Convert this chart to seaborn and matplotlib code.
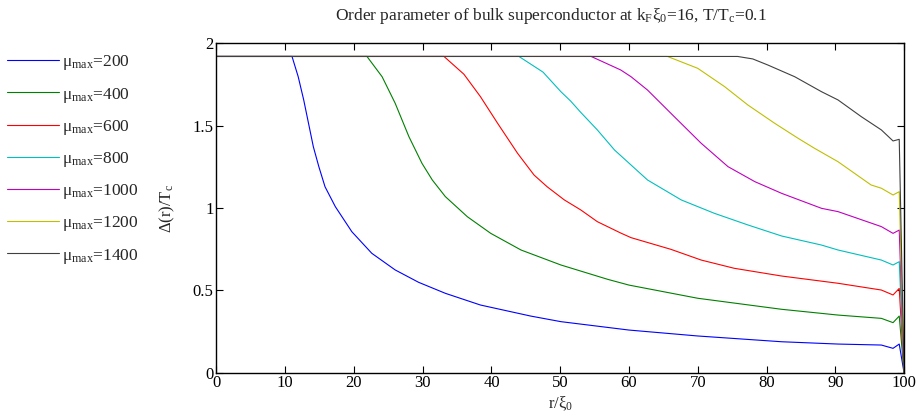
import numpy as np
import pandas as pd
import matplotlib
matplotlib.use("Agg")
import matplotlib.pyplot as plt
import seaborn as sns

# ---- data ----
mu_max = [200, 400, 600, 800, 1000, 1200, 1400]

x_200 = [0, 11.0, 11.9, 12.7, 13.4, 14.1, 14.9, 15.8, 17.3, 19.7, 22.6, 26.0, 29.4, 33.3, 38.4, 45.7, 50.1, 60.0, 70.0, 82.2, 90.4, 96.7, 98.4, 99.3, 100]
y_200 = [1.92, 1.92, 1.797, 1.656, 1.514, 1.372, 1.251, 1.129, 1.008, 0.856, 0.725, 0.624, 0.549, 0.482, 0.411, 0.344, 0.31, 0.259, 0.223, 0.188, 0.174, 0.168, 0.148, 0.174, 0.0]

x_400 = [0, 21.9, 24.1, 26.0, 28.0, 29.9, 31.4, 33.3, 36.5, 39.9, 44.3, 50.1, 56.9, 60.0, 70.0, 82.2, 90.4, 96.7, 98.4, 99.3, 100]
y_400 = [1.92, 1.92, 1.797, 1.636, 1.433, 1.271, 1.17, 1.069, 0.947, 0.846, 0.745, 0.654, 0.567, 0.532, 0.452, 0.385, 0.35, 0.33, 0.304, 0.344, 0.0]

x_600 = [0, 33.1, 36.0, 38.4, 40.9, 43.8, 46.2, 48.1, 50.6, 53.0, 55.4, 58.8, 60.3, 66.1, 70.5, 75.3, 82.2, 90.4, 96.7, 98.4, 99.3, 100]
y_600 = [1.92, 1.92, 1.812, 1.676, 1.514, 1.332, 1.20, 1.129, 1.049, 0.988, 0.917, 0.848, 0.82, 0.749, 0.684, 0.634, 0.587, 0.543, 0.502, 0.472, 0.512, 0.0]

x_800 = [0, 44.0, 47.5, 50.1, 51.5, 53.0, 55.4, 57.9, 62.7, 67.6, 72.4, 77.3, 82.2, 88.0, 90.4, 96.7, 98.4, 99.3, 100]
y_800 = [1.92, 1.92, 1.825, 1.706, 1.65, 1.58, 1.474, 1.352, 1.17, 1.049, 0.968, 0.897, 0.83, 0.775, 0.745, 0.684, 0.654, 0.674, 0.0]

x_1000 = [0, 54.5, 58.8, 60.3, 62.7, 66.6, 70.5, 74.4, 78.3, 82.2, 88.0, 90.4, 96.7, 98.4, 99.3, 100]
y_1000 = [1.92, 1.92, 1.838, 1.797, 1.716, 1.554, 1.393, 1.251, 1.16, 1.089, 0.998, 0.978, 0.887, 0.846, 0.866, 0.0]

x_1200 = [0, 65.6, 70.0, 73.9, 77.3, 81.2, 84.6, 87.0, 90.4, 95.2, 96.7, 98.4, 99.3, 100]
y_1200 = [1.92, 1.92, 1.848, 1.737, 1.625, 1.514, 1.423, 1.362, 1.281, 1.14, 1.12, 1.079, 1.099, 0.0]

x_1400 = [0, 75.8, 78.0, 80.2, 84.1, 88.0, 90.4, 93.8, 96.7, 98.4, 99.3, 100]
y_1400 = [1.92, 1.92, 1.905, 1.868, 1.797, 1.706, 1.656, 1.554, 1.474, 1.407, 1.417, 0.0]

xs = [x_200, x_400, x_600, x_800, x_1000, x_1200, x_1400]
ys = [y_200, y_400, y_600, y_800, y_1000, y_1200, y_1400]

x_ticks = [0, 10, 20, 30, 40, 50, 60, 70, 80, 90, 100]
y_ticks = [0, 0.5, 1, 1.5, 2]
y_ticklabels = ["0", "0.5", "1", "1.5", "2"]

colors = ["#0000ff", "#008000", "#ff0000", "#00bfbf", "#bf00bf", "#bfbf00", "#404040"]

# ---- build long-form table ----
frames = []
for m, xv, yv in zip(mu_max, xs, ys):
    frames.append(pd.DataFrame({"r": xv, "delta": yv, "mu": m}))
df = pd.concat(frames, ignore_index=True)

sns.set_style("ticks")
plt.rcParams["font.family"] = ["Liberation Serif", "DejaVu Serif"]
plt.rcParams["mathtext.fontset"] = "custom"
plt.rcParams["mathtext.rm"] = "Liberation Serif"
plt.rcParams["mathtext.it"] = "Liberation Serif"
plt.rcParams["mathtext.default"] = "rm"

fig = plt.figure(figsize=(9.18, 4.17), dpi=100)
ax = fig.add_axes([0.2357, 0.1062, 0.7491, 0.79])

sns.lineplot(data=df, x="r", y="delta", hue="mu", hue_order=mu_max,
             palette=colors, estimator=None, sort=False, linewidth=0.8,
             legend=False, ax=ax)

ax.set_xlim(0, 100)
ax.set_ylim(0, 2)
ax.set_xticks(x_ticks)
ax.set_xticklabels([str(t) for t in x_ticks])
ax.set_yticks(y_ticks)
ax.set_yticklabels(y_ticklabels)
ax.tick_params(direction="in", top=True, right=True, length=5, width=0.8,
               labelsize=12, pad=2, colors="black")
for s in ax.spines.values():
    s.set_linewidth(1.0)
    s.set_color("black")
    s.set_visible(True)

ax.set_xlabel("r/ξ$_0$", fontsize=12, labelpad=2)
ax.set_ylabel("Δ(r)/T$_c$", fontsize=12, labelpad=11)
title = ax.set_title("Order parameter of bulk superconductor at k$_F$ξ$_0$=16, T/T$_c$=0.1",
                     fontsize=12.5, pad=17)
title.set_x(0.486)

handles = ax.lines[:len(mu_max)]
labels = ["μ$_{max}$=%d" % m for m in mu_max]
fig.legend(handles, labels, loc="upper left", bbox_to_anchor=(0.008, 0.872),
           bbox_transform=fig.transFigure, frameon=False, fontsize=12.5,
           handlelength=3.0, handletextpad=0.15, labelspacing=0.76,
           borderpad=0, borderaxespad=0)

fig.savefig("out.png", dpi=100)
